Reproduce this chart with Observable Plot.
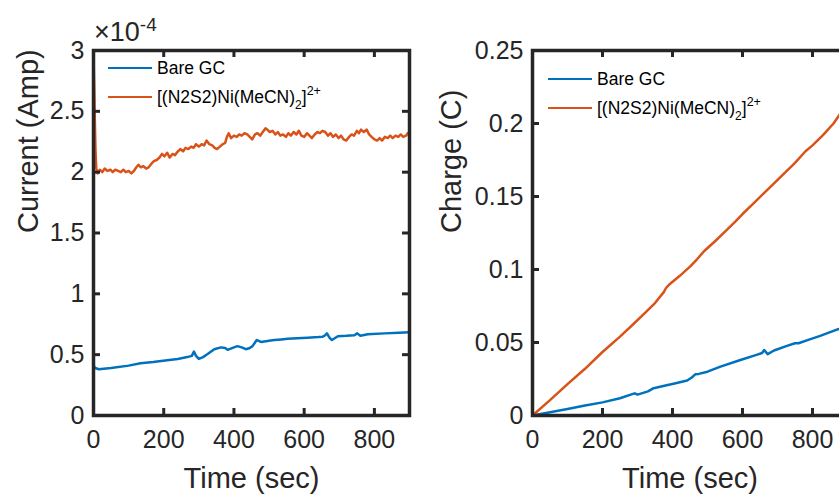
<!DOCTYPE html>
<html><head><meta charset="utf-8">
<script src="https://cdn.jsdelivr.net/npm/d3@7"></script>
<script src="https://cdn.jsdelivr.net/npm/@observablehq/plot@0.6"></script>
<style>
html,body{margin:0;padding:0;background:#fff;overflow:hidden;}
#wrap{position:relative;width:839px;height:496px;overflow:hidden;font-family:"Liberation Sans",Arial,sans-serif;color:#262626;}
.panel{position:absolute;top:0;}
.row{position:absolute;display:flex;align-items:center;height:24px;font-size:17.5px;color:#000;white-space:nowrap;}
.sw{display:inline-block;width:44px;height:2.5px;margin-right:5px;}
.sub{font-size:12px;position:relative;top:6px;}
.sup{font-size:12.5px;position:relative;top:-8px;}
.exp{position:absolute;font-size:27px;color:#262626;white-space:nowrap;line-height:1;}
.exp span{font-size:19px;position:relative;top:-10px;}
</style></head><body><div id="wrap"></div>
<script>
// ---- data ----
const seriesNames = ["Bare GC", "[(N2S2)Ni(MeCN)2]2+"];
const xTicks = [0, 200, 400, 600, 800];
const currentTicks = [0, 0.5, 1, 1.5, 2, 2.5, 3];       // ×10^-4 A
const chargeTicks = [0, 0.05, 0.1, 0.15, 0.2, 0.25];     // C

// Current, Bare GC (×10^-4 A)
const tBareI = [0, 5, 15, 50, 100, 134, 170, 210, 240, 267, 280, 286, 292, 300, 312, 325, 344, 363, 375, 382, 391, 400, 410, 422, 434, 445, 453, 460, 465, 477, 500, 515, 535, 553, 580, 610, 640, 653, 660, 665, 672, 679, 696, 720, 743, 751, 760, 781, 829, 870, 900];
const iBare = [0.41, 0.39, 0.38, 0.39, 0.41, 0.43, 0.44, 0.455, 0.465, 0.48, 0.49, 0.525, 0.49, 0.465, 0.48, 0.505, 0.545, 0.56, 0.555, 0.54, 0.55, 0.56, 0.57, 0.56, 0.545, 0.555, 0.57, 0.60, 0.62, 0.605, 0.615, 0.62, 0.625, 0.63, 0.635, 0.64, 0.645, 0.648, 0.66, 0.675, 0.64, 0.62, 0.652, 0.655, 0.66, 0.675, 0.655, 0.667, 0.675, 0.68, 0.685];

// Current, Ni complex (×10^-4 A)
const tNiI = [0, 2, 4, 6, 8, 12, 18, 25, 32, 40, 48, 55, 62, 70, 78, 85, 92, 100, 108, 115, 122, 128, 135, 142, 150, 157, 165, 172, 180, 188, 195, 202, 210, 217, 225, 232, 240, 248, 255, 262, 270, 278, 285, 292, 300, 308, 315, 322, 330, 338, 345, 352, 360, 368, 375, 380, 385, 392, 400, 408, 415, 422, 430, 438, 445, 452, 460, 467, 475, 482, 490, 495, 502, 510, 518, 525, 532, 540, 548, 555, 562, 570, 578, 585, 592, 600, 608, 615, 622, 630, 638, 645, 652, 660, 668, 675, 682, 690, 698, 705, 712, 720, 728, 735, 742, 750, 756, 762, 770, 778, 785, 792, 800, 808, 815, 822, 830, 838, 845, 852, 860, 868, 875, 882, 890, 895, 900];
const iNi = [2.95, 2.7, 2.4, 2.15, 2.03, 1.99, 2.02, 2.0, 2.03, 2.01, 2.02, 2.0, 2.02, 2.01, 2.0, 2.02, 2.0, 2.01, 1.99, 2.01, 2.04, 2.06, 2.04, 2.05, 2.03, 2.04, 2.07, 2.09, 2.10, 2.12, 2.15, 2.13, 2.16, 2.12, 2.15, 2.14, 2.17, 2.19, 2.17, 2.20, 2.19, 2.21, 2.20, 2.23, 2.21, 2.23, 2.22, 2.26, 2.23, 2.22, 2.20, 2.19, 2.21, 2.23, 2.24, 2.29, 2.32, 2.28, 2.30, 2.29, 2.31, 2.30, 2.32, 2.31, 2.29, 2.27, 2.31, 2.32, 2.30, 2.33, 2.36, 2.35, 2.33, 2.34, 2.31, 2.33, 2.30, 2.31, 2.29, 2.32, 2.30, 2.33, 2.31, 2.34, 2.30, 2.29, 2.32, 2.30, 2.28, 2.31, 2.33, 2.32, 2.34, 2.33, 2.30, 2.32, 2.29, 2.31, 2.28, 2.30, 2.27, 2.26, 2.29, 2.31, 2.30, 2.34, 2.32, 2.35, 2.33, 2.35, 2.31, 2.29, 2.27, 2.26, 2.28, 2.26, 2.29, 2.28, 2.30, 2.28, 2.30, 2.29, 2.31, 2.29, 2.30, 2.32, 2.33];

// Charge, Bare GC (C)
const tBareQ = [0, 50, 100, 150, 200, 250, 285, 292, 300, 330, 346, 380, 403, 442, 455, 465, 475, 500, 537, 594, 640, 656, 662, 672, 690, 727, 750, 760, 790, 822, 860, 900];
const qBare = [0, 0.0022, 0.0045, 0.0068, 0.009, 0.0118, 0.0146, 0.0152, 0.0143, 0.0165, 0.0187, 0.0205, 0.0218, 0.024, 0.026, 0.0282, 0.0285, 0.030, 0.0335, 0.038, 0.0415, 0.0428, 0.0448, 0.042, 0.0445, 0.0477, 0.0495, 0.0495, 0.052, 0.0545, 0.058, 0.0615];

// Charge, Ni complex (C)
const tNiQ = [0, 50, 100, 150, 200, 250, 290, 320, 350, 375, 382, 390, 420, 450, 470, 490, 520, 550, 580, 600, 630, 660, 690, 720, 750, 780, 800, 830, 860, 880, 900];
const qNi = [0, 0.0105, 0.0215, 0.032, 0.0435, 0.054, 0.063, 0.070, 0.077, 0.0845, 0.0875, 0.0895, 0.0955, 0.102, 0.107, 0.1125, 0.119, 0.126, 0.133, 0.138, 0.145, 0.152, 0.159, 0.166, 0.173, 0.181, 0.185, 0.192, 0.2, 0.207, 0.212];

// ---- drawing ----
const blue = "#0072BD", orange = "#D95319", axisColor = "#262626";
const H = 496, mT = 50, mB = 81;
const frameH = H - mT - mB;
const font = "Liberation Sans, Arial, sans-serif";

const bareI = tBareI.map((t, i) => ({t, v: iBare[i]}));
const niI = tNiI.map((t, i) => ({t, v: iNi[i]}));
const bareQ = tBareQ.map((t, i) => ({t, v: qBare[i]}));
const niQ = tNiQ.map((t, i) => ({t, v: qNi[i]}));

function panel({width, mL, mR, yDomain, yTicks, bare, ni, ylabel, ylabelDx}) {
  const frameW = width - mL - mR;
  return Plot.plot({
    width, height: H, marginLeft: mL, marginRight: mR, marginTop: mT, marginBottom: mB,
    style: {fontFamily: font, fontSize: "25px", color: axisColor, background: "transparent", overflow: "visible"},
    x: {domain: [0, 900], label: null},
    y: {domain: yDomain, label: null},
    marks: [
      Plot.line(bare, {x: "t", y: "v", stroke: blue, strokeWidth: 2.5}),
      Plot.line(ni, {x: "t", y: "v", stroke: orange, strokeWidth: 2.5}),
      Plot.ruleX(xTicks, {stroke: axisColor, strokeWidth: 3, insetTop: frameH - 7}),
      Plot.ruleX(xTicks, {stroke: axisColor, strokeWidth: 3, insetBottom: frameH - 7}),
      Plot.ruleY(yTicks, {stroke: axisColor, strokeWidth: 3, insetRight: frameW - 7}),
      Plot.ruleY(yTicks, {stroke: axisColor, strokeWidth: 3, insetLeft: frameW - 7}),
      Plot.frame({stroke: axisColor, strokeWidth: 3.5}),
      Plot.axisX(xTicks, {tickSize: 0, tickPadding: 15, label: null, fontSize: 25, tickFormat: d => String(d)}),
      Plot.axisY(yTicks, {tickSize: 0, tickPadding: 9, label: null, fontSize: 25, tickFormat: d => String(d)}),
      Plot.text(["Time (sec)"], {frameAnchor: "bottom", dy: 52, lineAnchor: "top", fontSize: 29, fill: axisColor}),
      Plot.text([ylabel], {frameAnchor: "left", dx: ylabelDx, rotate: -90, lineAnchor: "bottom", fontSize: 29, fill: axisColor})
    ]
  });
}

const wrap = document.getElementById("wrap");
const p1 = panel({width: 420, mL: 93, mR: 11, yDomain: [0, 3], yTicks: currentTicks, bare: bareI, ni: niI, ylabel: "Current (Amp)", ylabelDx: -56});
p1.classList.add("panel"); p1.style.left = "0px";
wrap.appendChild(p1);
const p2 = panel({width: 440, mL: 112, mR: 13, yDomain: [0, 0.25], yTicks: chargeTicks, bare: bareQ, ni: niQ, ylabel: "Charge (C)", ylabelDx: -72});
p2.classList.add("panel"); p2.style.left = "420px";
wrap.appendChild(p2);

// exponent label
const ex = document.createElement("div");
ex.className = "exp";
ex.style.left = "94px"; ex.style.top = "19px";
ex.innerHTML = "×10<span>-4</span>";
wrap.appendChild(ex);

// legends
function legend(x, y) {
  const rows = [
    {c: blue, html: seriesNames[0]},
    {c: orange, html: '[(N2S2)Ni(MeCN)<span class="sub">2</span>]<span class="sup">2+</span>'}
  ];
  rows.forEach((r, i) => {
    const d = document.createElement("div");
    d.className = "row";
    d.style.left = x + "px";
    d.style.top = (y + i * 29 - 12) + "px";
    d.innerHTML = `<span class="sw" style="background:${r.c}"></span><span>${r.html}</span>`;
    wrap.appendChild(d);
  });
}
legend(108, 68);
legend(548, 79);
</script>
</body></html>
